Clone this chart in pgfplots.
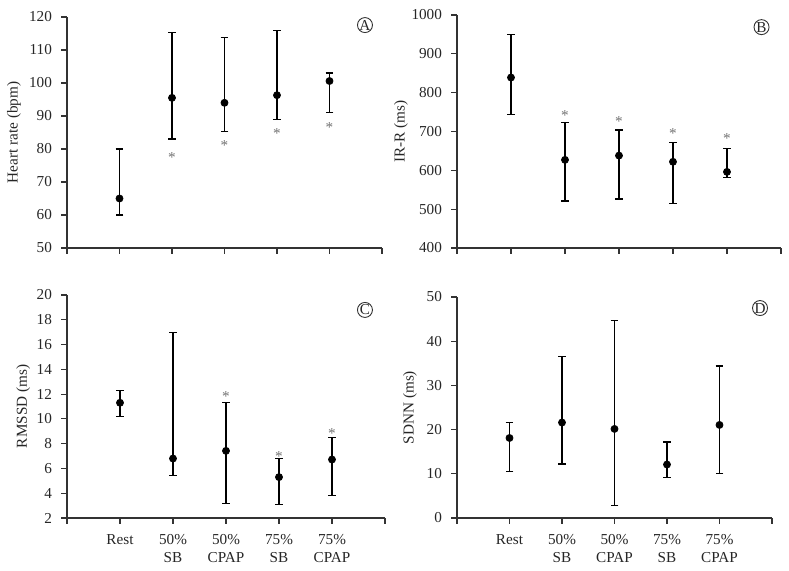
\documentclass[border=0pt]{standalone}
\usepackage{fontspec}
\setmainfont{Liberation Serif}
\usepackage{pgfplots}
\usepackage{pgfplotstable}
\pgfplotsset{compat=1.18}

% Panel A: heart rate (bpm)
\pgfplotstableread{
x y lo hi
1 65.0 60.0 80.0
2 95.5 83.0 115.2
3 94.0 85.3 113.7
4 96.3 88.9 116.0
5 100.6 91.1 103.0
}\hrdata
\pgfplotstableread{
x y
2 78.3
3 82.0
4 85.7
5 87.4
}\hrstar
% Panel B: IR-R (ms)
\pgfplotstableread{
x y lo hi
1 839 744 949
2 627 521 723
3 638 526 704
4 622 514 672
5 596 582 657
}\irdata
\pgfplotstableread{
x y
2 749
3 734
4 704
5 690
}\irstar
% Panel C: RMSSD (ms)
\pgfplotstableread{
x y lo hi
1 11.3 10.2 12.3
2 6.8 5.46 17.0
3 7.42 3.15 11.3
4 5.3 3.07 6.77
5 6.72 3.82 8.5
}\rmdata
\pgfplotstableread{
x y
3 12.07
4 7.23
5 9.1
}\rmstar
% Panel D: SDNN (ms)
\pgfplotstableread{
x y lo hi
1 18.1 10.45 21.6
2 21.6 12.2 36.6
3 20.15 2.9 44.6
4 12.1 9.1 17.2
5 21.05 10.1 34.4
}\sddata

\pgfplotsset{
  panel/.style={
    scale only axis,
    clip=false,
    axis x line*=bottom,
    axis y line*=left,
    axis line style={black!80, line width=0.6pt, -},
    xmin=0, xmax=6,
    xtick={0,...,6},
    tick align=outside,
    major tick length=2.8pt,
    tick style={black!80, line width=0.6pt},
    /pgf/number format/assume math mode=true,
    /pgf/number format/1000 sep={},
    tick label style={text=black!85},
    yticklabel style={xshift=-1.2pt},
    label style={text=black!85},
    ylabel style={anchor=center},
  },
  toppanel/.style={xticklabels={}},
  botpanel/.style={
    xticklabels={{},Rest,{50\%\\SB},{50\%\\CPAP},{75\%\\SB},{75\%\\CPAP},{}},
    xticklabel style={align=center, yshift=-2pt},
  },
  pts/.style={
    only marks, mark=*, mark size=1.75pt, black,
    error bars/.cd, y dir=both, y explicit,
    error bar style={line width=0.6pt, black},
    error mark options={rotate=90, mark size=1.9pt, line width=0.6pt, black},
  },
  stars/.style={
    draw=none, mark=none,
    nodes near coords={*},
    every node near coord/.append style={anchor=center, text=black!55, yshift=-1.6pt, inner sep=0pt},
  },
}

\newcommand{\circlabel}[3]{\node[draw=black!80, circle, minimum size=7.5pt, inner sep=0pt, line width=0.45pt, text=black!85] at (axis description cs:#1,#2) {#3};}

\begin{document}
\begin{tikzpicture}[font=\fontsize{7.6}{9}\selectfont]
\useasboundingbox (0pt,0pt) rectangle (394.5pt,285.5pt);

% A
\begin{axis}[panel, toppanel, at={(33.5pt,161.5pt)}, anchor=south west,
  width=157.5pt, height=115.5pt,
  ymin=50, ymax=120, ytick={50,60,...,120},
  ylabel={Heart rate (bpm)},
  ylabel style={at={(axis description cs:-0.168,0.5)}}]
\addplot[pts] table[x=x, y=y, y error plus expr=\thisrow{hi}-\thisrow{y}, y error minus expr=\thisrow{y}-\thisrow{lo}] {\hrdata};
\addplot[stars] table[x=x, y=y] {\hrstar};
\circlabel{0.946}{0.965}{A}
\end{axis}

% B
\begin{axis}[panel, toppanel, at={(228.5pt,161.5pt)}, anchor=south west,
  width=162pt, height=116.5pt,
  ymin=400, ymax=1000, ytick={400,500,...,1000},
  ylabel={IR-R (ms)},
  ylabel style={at={(axis description cs:-0.173,0.5)}}]
\addplot[pts] table[x=x, y=y, y error plus expr=\thisrow{hi}-\thisrow{y}, y error minus expr=\thisrow{y}-\thisrow{lo}] {\irdata};
\addplot[stars] table[x=x, y=y] {\irstar};
\circlabel{0.94}{0.948}{B}
\end{axis}

% C
\begin{axis}[panel, botpanel, at={(33.5pt,26.5pt)}, anchor=south west,
  width=159pt, height=111.5pt,
  ymin=2, ymax=20, ytick={2,4,...,20},
  ylabel={RMSSD (ms)},
  ylabel style={at={(axis description cs:-0.138,0.5)}}]
\addplot[pts] table[x=x, y=y, y error plus expr=\thisrow{hi}-\thisrow{y}, y error minus expr=\thisrow{y}-\thisrow{lo}] {\rmdata};
\addplot[stars] table[x=x, y=y] {\rmstar};
\circlabel{0.937}{0.933}{C}
\end{axis}

% D
\begin{axis}[panel, botpanel, at={(228.5pt,26.5pt)}, anchor=south west,
  width=157.5pt, height=110.5pt,
  ymin=0, ymax=50, ytick={0,10,...,50},
  ylabel={SDNN (ms)},
  ylabel style={at={(axis description cs:-0.149,0.5)}}]
\addplot[pts] table[x=x, y=y, y error plus expr=\thisrow{hi}-\thisrow{y}, y error minus expr=\thisrow{y}-\thisrow{lo}] {\sddata};
\circlabel{0.962}{0.95}{D}
\end{axis}
\end{tikzpicture}
\end{document}
